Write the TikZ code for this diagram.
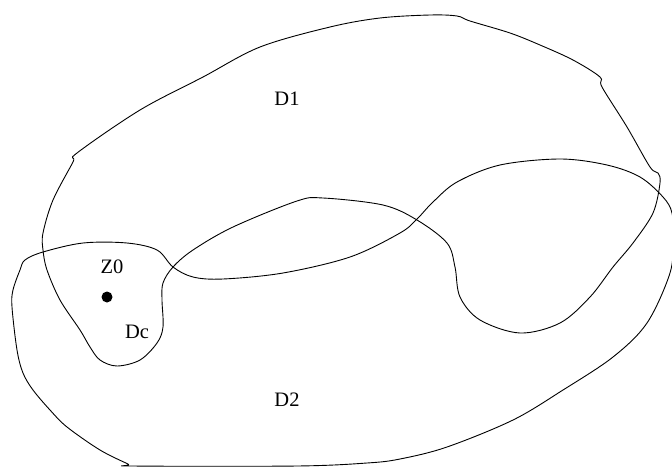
\documentclass[tikz,border=0pt]{standalone}
\usepackage{fontspec}
\setmainfont{Liberation Serif}
\begin{document}
\begin{tikzpicture}[x=1pt,y=-1pt,
  curve/.style={draw=black,line width=0.9pt,line join=round},
  lbl/.style={font=\fontsize{20.5}{24}\selectfont,inner sep=0pt}]
\useasboundingbox (0,0) rectangle (672,467);
% region D1 (with the Dc lobe)
\draw[curve] plot[smooth cycle,tension=0.55] coordinates {
 (430,15) (457,16) (470,21) (510,33) (540,45) (573,60) (600,77) (602,87)
 (627,127) (650,167) (658,173) (660,183) (653,213) (633,243) (613,267)
 (590,297) (560,323) (520,333) (480,320) (460,297) (455,267) (447,243)
 (417,220) (383,205) (323,198) (297,201) (233,227) (193,250) (173,267)
 (163,283) (162,300) (163,327) (157,343) (140,360) (117,366) (100,360)
 (90,347) (80,330) (60,300) (47,270) (43,250) (43,233) (53,200) (73,162)
 (77,153) (140,110) (203,77) (260,47) (330,27) (380,18)};
% region D2
\draw[curve] plot[smooth cycle,tension=0.55] coordinates {
 (25,260) (43,252) (83,243) (127,243) (157,250) (173,267) (193,277)
 (223,279) (283,273) (350,257) (400,233) (417,219) (433,202) (457,182)
 (500,165) (560,159) (607,165) (640,177) (663,197) (672,213) (673,240)
 (670,273) (647,323) (613,357) (563,390) (513,420) (447,447) (400,459)
 (367,463) (297,466) (133,466) (128,464) (100,450) (67,427) (50,410)
 (33,390) (23,373) (17,350) (12,307) (13,290) (20,270)};
\node[lbl] (d1) at (287,99) {D1};
\node[lbl] (d2) at (287,400) {D2};
\node[lbl] (z0) at (112,267) {Z0};
\node[lbl] (dc) at (137,332) {Dc};
\node[circle,fill=black,inner sep=0pt,minimum size=11pt] (dot) at (107,297) {};
\end{tikzpicture}
\end{document}
